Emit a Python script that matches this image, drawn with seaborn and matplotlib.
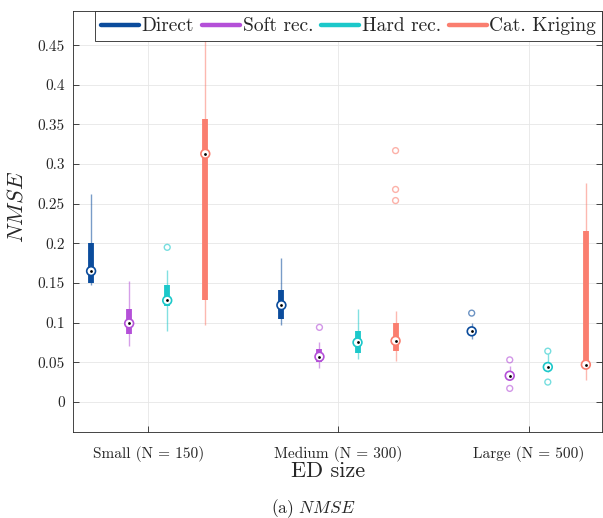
import numpy as np
import pandas as pd
import matplotlib
matplotlib.use("Agg")
import matplotlib.pyplot as plt
from matplotlib.lines import Line2D
import seaborn as sns

sns.set_style("whitegrid")
plt.rcParams["font.family"] = "serif"
plt.rcParams["font.serif"] = ["cmr10", "DejaVu Serif"]
plt.rcParams["mathtext.fontset"] = "cm"
plt.rcParams["axes.formatter.use_mathtext"] = True

# Groups and methods
groups = ["Small (N = 150)", "Medium (N = 300)", "Large (N = 500)"]
methods = ["Direct", "Soft rec.", "Hard rec.", "Cat. Kriging"]
colors = ["#0B4C9C", "#B450D8", "#1CC8CA", "#FA7E6F"]

# Box statistics (row = method, column = group)
whisker_low = [
    [0.147, 0.097, 0.079],
    [0.070, 0.043, 0.027],
    [0.089, 0.054, 0.038],
    [0.097, 0.052, 0.027],
]
q1 = [
    [0.150, 0.105, 0.085],
    [0.086, 0.050, 0.030],
    [0.121, 0.062, 0.041],
    [0.129, 0.064, 0.044],
]
median = [
    [0.165, 0.122, 0.089],
    [0.099, 0.057, 0.033],
    [0.128, 0.075, 0.044],
    [0.313, 0.077, 0.047],
]
q3 = [
    [0.200, 0.141, 0.092],
    [0.117, 0.067, 0.038],
    [0.147, 0.090, 0.049],
    [0.357, 0.100, 0.216],
]
whisker_high = [
    [0.262, 0.182, 0.099],
    [0.153, 0.076, 0.045],
    [0.166, 0.117, 0.060],
    [0.500, 0.115, 0.276],
]

# Outliers (method index, group index, value)
outlier_method = [2, 1, 3, 3, 3, 0, 1, 1, 2, 2]
outlier_group = [0, 1, 1, 1, 1, 2, 2, 2, 2, 2]
outlier_value = [0.195, 0.094, 0.317, 0.268, 0.254, 0.112, 0.053, 0.017, 0.064, 0.025]

DODGE = 0.2


def posicao(g, m):
    return g + (m - (len(methods) - 1) / 2) * DODGE


rows = []
for m, metodo in enumerate(methods):
    for g, grupo in enumerate(groups):
        rows.append({
            "method": metodo, "group": grupo, "x": posicao(g, m),
            "lo": whisker_low[m][g], "q1": q1[m][g], "med": median[m][g],
            "q3": q3[m][g], "hi": whisker_high[m][g],
        })
df = pd.DataFrame(rows)

df_out = pd.DataFrame({
    "method": [methods[m] for m in outlier_method],
    "x": [posicao(g, m) for m, g in zip(outlier_method, outlier_group)],
    "value": outlier_value,
})

palette = dict(zip(methods, colors))

fig = plt.figure(figsize=(6.03, 5.18), dpi=100)
ax = fig.add_axes([0.1211, 0.166, 0.8773, 0.8118])

# Whiskers (thin) and boxes (thick) in MATLAB compact style
for metodo, cor in zip(methods, colors):
    d = df[df["method"] == metodo]
    ax.vlines(d["x"], d["lo"], d["hi"], color=cor, lw=1.0, alpha=0.55, zorder=2)
    ax.vlines(d["x"], d["q1"], d["q3"], color=cor, lw=4.2, zorder=2.5)

# Median markers: white circle, coloured edge, black dot
sns.scatterplot(data=df, x="x", y="med", hue="method", hue_order=methods,
                palette=palette, s=40, linewidth=1.2, legend=False, ax=ax, zorder=3)
coll = ax.collections[-1]
coll.set_edgecolors(coll.get_facecolors())
coll.set_facecolors("white")
sns.scatterplot(data=df, x="x", y="med", color="black", s=4, linewidth=0,
                legend=False, ax=ax, zorder=4)

# Outliers: open circles
sns.scatterplot(data=df_out, x="x", y="value", hue="method", hue_order=methods,
                palette=palette, s=18, linewidth=1.0, legend=False, ax=ax, zorder=3)
coll = ax.collections[-1]
ec = coll.get_facecolors().copy()
ec[:, 3] = 0.6
coll.set_edgecolors(ec)
coll.set_facecolors("none")

ax.set_xlim(-0.395, 2.385)
ax.set_ylim(-0.038, 0.4925)
ax.set_xticks(range(len(groups)))
ax.set_xticklabels(groups)
yt = np.arange(0, 0.451, 0.05)
ax.set_yticks(yt)
ax.set_yticklabels([f"{v:g}" for v in yt])
ax.tick_params(axis="both", direction="in", length=4, width=0.6, labelsize=11,
               colors="0.15", bottom=True, left=True, top=True, right=True)
ax.tick_params(axis="x", pad=10)
ax.tick_params(axis="y", pad=6)
ax.grid(True, color="0.9", lw=0.6)
for sp in ax.spines.values():
    sp.set_color("0.15")
    sp.set_linewidth(0.6)

ax.set_xlabel("ED size", fontsize=16, color="0.15")
ax.xaxis.set_label_coords(0.482, -0.069)
ax.set_ylabel(r"$NMSE$", fontsize=16, color="0.15")
ax.yaxis.set_label_coords(-0.087, 0.535)

handles = [Line2D([], [], color=c, lw=3.2) for c in colors]
leg = ax.legend(handles, methods, loc="upper right", bbox_to_anchor=(1.0, 1.0),
                ncol=4, fontsize=14, frameon=True, fancybox=False,
                edgecolor="0.15", framealpha=1, borderaxespad=0,
                handlelength=1.95, handletextpad=0.15, columnspacing=0.4,
                borderpad=0.3)
leg.get_frame().set_linewidth(0.6)

fig.text(0.52, 0.019, r"(a) $NMSE$", ha="center", va="center", fontsize=12.5)

fig.savefig("out.png", dpi=100)
